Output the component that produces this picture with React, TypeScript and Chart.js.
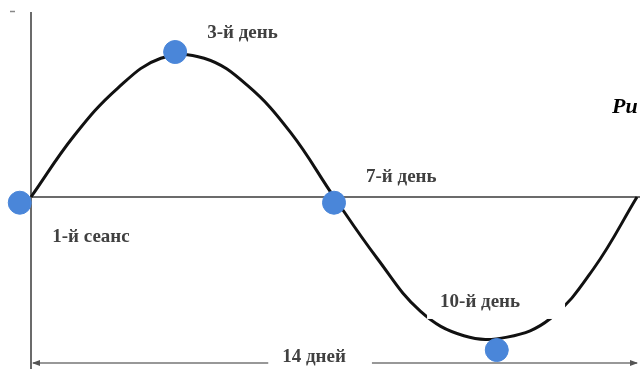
import React, { useEffect, useRef } from "react";
import { Chart, registerables } from "chart.js";

Chart.register(...registerables);

// Curve: day -> relative level (peak = 1)
const days = [0, 1, 2, 3, 4, 5, 6, 7, 8, 9, 10, 11, 12, 13, 14];
const levels = [0, 0.43, 0.76, 0.97, 0.97, 0.78, 0.45, 0, -0.43, -0.8, -0.97, -0.98, -0.85, -0.5, 0];

// Highlighted session markers
const markerDays = [-0.26, 3.33, 7.0, 10.76];
const markerLevels = [-0.04, 1.014, -0.04, -1.07];

// Text labels (anchor: left edge / vertical centre, in data units)
const labelTexts = ["3-й день", "7-й день", "1-й сеанс", "10-й день"];
const labelDays = [4.07, 7.74, 0.49, 9.45];
const labelLevels = [1.147, 0.14, -0.28, -0.734];

const spanText = "14 дней";
const spanStart = 0;
const spanEnd = 14;
const spanLevel = -1.161;
const spanTextDay = 6.54;

const X_MIN = 0;
const X_MAX = 14;
const Y_MIN = -1.2028;
const Y_MAX = 1.3776;

const FONT = "bold 19px 'Liberation Serif', 'Times New Roman', serif";

const overlayPlugin = {
  id: "overlay",
  beforeDatasetsDraw(chart: any) {
    const { ctx, scales } = chart;
    const xs = scales.x;
    const ys = scales.y;
    const x0 = xs.getPixelForValue(0);
    const y0 = ys.getPixelForValue(0);
    ctx.save();
    ctx.strokeStyle = "#6b6b6b";
    ctx.lineWidth = 2;
    ctx.beginPath();
    ctx.moveTo(x0, 12);
    ctx.lineTo(x0, chart.height);
    ctx.stroke();
    ctx.beginPath();
    ctx.moveTo(x0, y0);
    ctx.lineTo(chart.width, y0);
    ctx.stroke();
    // small dash top-left
    ctx.lineWidth = 1.5;
    ctx.strokeStyle = "#888";
    ctx.beginPath();
    ctx.moveTo(10, 11.5);
    ctx.lineTo(15, 11.5);
    ctx.stroke();
    ctx.restore();
  },
  afterDatasetsDraw(chart: any) {
    const { ctx, scales } = chart;
    const xs = scales.x;
    const ys = scales.y;
    ctx.save();
    ctx.font = FONT;
    ctx.textBaseline = "middle";
    ctx.textAlign = "left";
    labelTexts.forEach((t, i) => {
      const px = xs.getPixelForValue(labelDays[i]);
      const py = ys.getPixelForValue(labelLevels[i]);
      if (i === 3) {
        ctx.fillStyle = "#ffffff";
        ctx.fillRect(px - 13, py - 17, 138, 34);
      }
      ctx.fillStyle = "#404040";
      ctx.fillText(t, px, py);
    });
    // span arrow
    const ay = ys.getPixelForValue(spanLevel);
    const ax0 = xs.getPixelForValue(spanStart);
    const ax1 = xs.getPixelForValue(spanEnd);
    const tx = xs.getPixelForValue(spanTextDay);
    const tw = ctx.measureText(spanText).width;
    const gap0 = tx - tw / 2 - 14;
    const gap1 = tx + tw / 2 + 26;
    ctx.strokeStyle = "#777";
    ctx.fillStyle = "#555";
    ctx.lineWidth = 1.5;
    ctx.beginPath();
    ctx.moveTo(ax0 + 2, ay);
    ctx.lineTo(gap0, ay);
    ctx.moveTo(gap1, ay);
    ctx.lineTo(ax1, ay);
    ctx.stroke();
    ctx.beginPath();
    ctx.moveTo(ax0 + 1, ay);
    ctx.lineTo(ax0 + 9, ay - 3);
    ctx.lineTo(ax0 + 9, ay + 3);
    ctx.closePath();
    ctx.fill();
    ctx.beginPath();
    ctx.moveTo(ax1 + 1, ay);
    ctx.lineTo(ax1 - 7, ay - 3);
    ctx.lineTo(ax1 - 7, ay + 3);
    ctx.closePath();
    ctx.fill();
    ctx.fillStyle = "#404040";
    ctx.textAlign = "center";
    ctx.fillText(spanText, tx, ay - 6);
    // cut-off caption at right edge
    ctx.font = "italic bold 22px 'Liberation Serif', 'Times New Roman', serif";
    ctx.textAlign = "left";
    ctx.textBaseline = "alphabetic";
    ctx.fillStyle = "#000";
    ctx.fillText("Ри", 612, 113);
    ctx.restore();
  },
};

export default function App() {
  const ref = useRef<HTMLCanvasElement | null>(null);
  useEffect(() => {
    if (!ref.current) return;
    const chart = new Chart(ref.current, {
      type: "scatter",
      data: {
        datasets: [
          {
            type: "line",
            data: days.map((d, i) => ({ x: d, y: levels[i] })),
            borderColor: "#111",
            borderWidth: 3,
            pointRadius: 0,
            tension: 0.4,
            fill: false,
            clip: false,
            order: 2,
          } as any,
          {
            data: markerDays.map((d, i) => ({ x: d, y: markerLevels[i] })),
            backgroundColor: "#4a86d9",
            borderColor: "#4a86d9",
            pointRadius: 11.5,
            pointHoverRadius: 11.5,
            clip: false,
            order: 1,
          } as any,
        ],
      },
      options: {
        responsive: false,
        animation: false,
        events: [],
        layout: { autoPadding: false, padding: { left: 31, right: 3, top: 0, bottom: 0 } },
        plugins: { legend: { display: false }, tooltip: { enabled: false } },
        scales: {
          x: { type: "linear", min: X_MIN, max: X_MAX, display: false },
          y: { type: "linear", min: Y_MIN, max: Y_MAX, display: false },
        },
      } as any,
      plugins: [overlayPlugin],
    });
    return () => chart.destroy();
  }, []);
  return (
    <div style={{ position: "fixed", left: 0, top: 0, width: 640, height: 369, background: "#fff" }}>
      <canvas ref={ref} width={640} height={369} />
    </div>
  );
}
